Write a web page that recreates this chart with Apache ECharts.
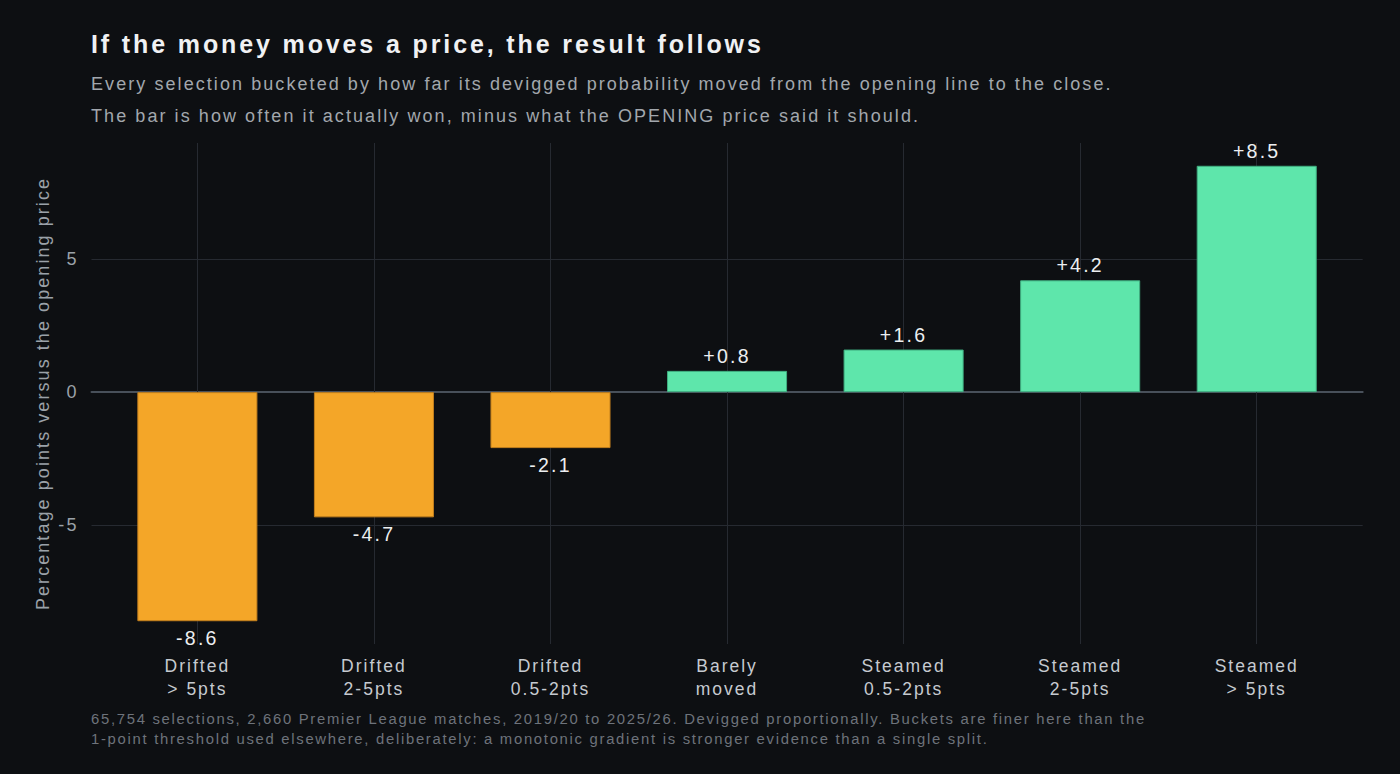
<!DOCTYPE html>
<html lang="en">
<head>
  <meta charset="UTF-8">
  <title>Money moves</title>
  <style>
    html, body { margin: 0; padding: 0; background: #0d0f12; }
    #chart { width: 1400px; height: 774px; }
    /* the original type is set with open tracking */
    #chart text { letter-spacing: 0.115em; }
  </style>
</head>
<body>
  <div id="chart"></div>

  <script src="https://cdn.jsdelivr.net/npm/echarts@6/dist/echarts.min.js"></script>
  <script>
    // buckets, left to right
    var buckets = ['Drifted\n> 5pts', 'Drifted\n2-5pts', 'Drifted\n0.5-2pts', 'Barely\nmoved',
                   'Steamed\n0.5-2pts', 'Steamed\n2-5pts', 'Steamed\n> 5pts'];
    // actual win rate minus opening implied probability (pp)
    var edge = [-8.6, -4.7, -2.1, 0.8, 1.6, 4.2, 8.5];
    var yTicks = [-5, 0, 5];

    var font = 'Liberation Sans, Arial, sans-serif';
    var gridColor = '#262a31';
    // ggplot-style 5% padding on the value range
    var span = Math.max.apply(null, edge) - Math.min.apply(null, edge);
    var yMin = Math.min.apply(null, edge) - span * 0.05;
    var yMax = Math.max.apply(null, edge) + span * 0.05;

    var chart = echarts.init(document.getElementById('chart'), null, { renderer: 'svg' });

    var option = {
      backgroundColor: '#0d0f12',
      animation: false,
      title: [
        {
          text: 'If the money moves a price, the result follows',
          left: 86, top: 24,
          textStyle: { color: '#f0f1f3', fontSize: 25, fontWeight: 'bold', fontFamily: font, lineHeight: 30 }
        },
        {
          text: 'Every selection bucketed by how far its devigged probability moved from the opening line to the close.\n' +
                'The bar is how often it actually won, minus what the OPENING price said it should.',
          left: 86, top: 63,
          textStyle: { color: '#a2a7ad', fontSize: 18, fontWeight: 'normal', fontFamily: font, lineHeight: 32 }
        },
        {
          text: '65,754 selections, 2,660 Premier League matches, 2019/20 to 2025/26. Devigged proportionally. Buckets are finer here than the\n' +
                '1-point threshold used elsewhere, deliberately: a monotonic gradient is stronger evidence than a single split.',
          left: 86, top: 704,
          textStyle: { color: '#6e737b', fontSize: 14.85, fontWeight: 'normal', fontFamily: font, lineHeight: 20 }
        }
      ],
      grid: [
        // full panel: horizontal grid, y labels, zero line
        { left: 91.5, right: 37.3, top: 143, bottom: 130 },
        // bars, inset by 0.1 band each side
        { left: 109.1, right: 55, top: 143, bottom: 130 }
      ],
      xAxis: [
        {
          gridIndex: 0, type: 'value', min: 0, max: 1,
          axisLine: { show: true, onZero: true, lineStyle: { color: '#48505a', width: 2 } },
          axisTick: { show: false }, axisLabel: { show: false }, splitLine: { show: false }
        },
        {
          gridIndex: 1, type: 'category', data: buckets, position: 'bottom',
          axisLine: { show: false, onZero: false },
          axisTick: { show: true, alignWithLabel: true, inside: true, length: 501,
                      lineStyle: { color: gridColor, width: 1 } },
          axisLabel: { color: '#c6cad0', fontSize: 17.5, fontFamily: font, lineHeight: 23, margin: 10 },
          splitLine: { show: false }
        }
      ],
      yAxis: [
        {
          gridIndex: 0, type: 'value', min: yMin, max: yMax, minInterval: 5, maxInterval: 5,
          name: 'Percentage points versus the opening price',
          nameLocation: 'middle', nameGap: 35, nameRotate: 90,
          nameTextStyle: { color: '#9ba1a8', fontSize: 18, fontFamily: font },
          axisLine: { show: false }, axisTick: { show: false },
          axisLabel: {
            color: '#9ba1a8', fontSize: 18, fontFamily: font, margin: 13,
            showMinLabel: false, showMaxLabel: false,
            formatter: function (v) { return yTicks.indexOf(v) >= 0 ? String(v) : ''; }
          },
          splitLine: { show: true, showMinLine: false, showMaxLine: false,
                       lineStyle: { color: gridColor, width: 1 } }
        },
        {
          gridIndex: 1, type: 'value', min: yMin, max: yMax, show: false,
          splitLine: { show: false }
        }
      ],
      series: [
        {
          type: 'bar',
          xAxisIndex: 1, yAxisIndex: 1,
          barWidth: '68%',
          z: 3,
          data: edge.map(function (v) {
            var up = v >= 0;
            return {
              value: v,
              itemStyle: {
                color: up ? '#5ee6ab' : '#f4a628',
                borderColor: up ? '#3fae80' : '#c27f1d',
                borderWidth: 1
              },
              label: { position: up ? 'top' : 'bottom', distance: up ? 5 : 7 }
            };
          }),
          label: {
            show: true,
            color: '#eceef0', fontSize: 19.5, fontFamily: font,
            formatter: function (p) { return (p.value > 0 ? '+' : '') + p.value.toFixed(1); }
          }
        }
      ]
    };

    chart.setOption(option);
  </script>
</body>
</html>
